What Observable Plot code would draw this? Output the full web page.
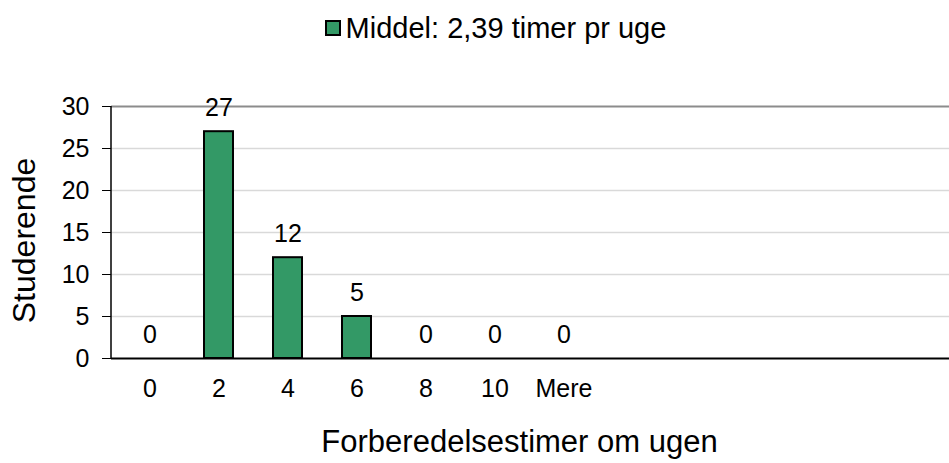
<!DOCTYPE html>
<html><head><meta charset="utf-8">
<script src="https://cdn.jsdelivr.net/npm/d3@7"></script>
<script src="https://cdn.jsdelivr.net/npm/@observablehq/plot@0.6"></script>
<style>
body{margin:0;background:#fff;font-family:"Liberation Sans",Arial,sans-serif;}
#legend{height:56px;display:flex;align-items:center;justify-content:center;padding-left:42px;box-sizing:border-box;font-size:29px;color:#000;}
#legend .sw{width:12px;height:12px;border:2px solid #000;background:#339966;margin-right:5px;}
#chart svg{display:block;}
</style></head><body>
<div id="legend"></div>
<div id="chart"></div>
<script>
const categories = ["0","2","4","6","8","10","Mere"];
const students = [0, 27, 12, 5, 0, 0, 0];
const yTicks = [0, 5, 10, 15, 20, 25, 30];
const seriesName = "Middel: 2,39 timer pr uge";
const yLabel = "Studerende";
const xLabel = "Forberedelsestimer om ugen";

const data = categories.map((c, i) => ({c, v: students[i]}));

const legend = document.getElementById("legend");
legend.innerHTML = `<span class="sw"></span><span></span>`;
legend.lastChild.textContent = seriesName;

const W = 949, H = 407, ML = 111, step = 69.75;
const font = "Liberation Sans, Arial, sans-serif";

const leftLine = (index, scales, values, dim) => {
  const g = document.createElementNS("http://www.w3.org/2000/svg", "line");
  g.setAttribute("x1", dim.marginLeft); g.setAttribute("x2", dim.marginLeft);
  g.setAttribute("y1", dim.marginTop); g.setAttribute("y2", dim.height - dim.marginBottom);
  g.setAttribute("stroke", "#000"); g.setAttribute("stroke-width", 1.5);
  return g;
};

const chart = Plot.plot({
  width: W, height: H,
  marginLeft: ML, marginRight: 0, marginTop: 50, marginBottom: 105,
  style: {fontFamily: font, fontSize: "25px", color: "#000", background: "#fff"},
  x: {domain: categories, range: [ML + 1, ML + 1 + categories.length * step], paddingInner: 0.584, paddingOuter: 0.292, align: 0.5, label: null},
  y: {domain: [0, 30], label: null},
  marks: [
    Plot.gridY(yTicks.filter(t => t > 0 && t < 30), {stroke: "#d9d9d9", strokeOpacity: 1, strokeWidth: 1.5}),
    Plot.ruleY([30], {stroke: "#8c8c8c", strokeWidth: 2}),
    Plot.axisY({ticks: yTicks, tickSize: 9, tickPadding: 13, stroke: "#000", fontSize: 25, label: null}),
    Plot.axisX({tickSize: 0, tickPadding: 21, fontSize: 25, label: null}),
    Plot.barY(data, {x: "c", y: "v", fill: "#339966", stroke: "#000", strokeWidth: 2}),
    Plot.text(data, {x: "c", y: "v", text: d => String(d.v), dy: -24, fontSize: 25, fill: "#000"}),
    Plot.ruleY([0], {stroke: "#000", strokeWidth: 2}),
    leftLine,
    Plot.text([yLabel], {frameAnchor: "left", textAnchor: "middle", lineAnchor: "middle", dx: -87, dy: 8, rotate: -90, fontSize: 32, fill: "#000"}),
    Plot.text([xLabel], {frameAnchor: "bottom", textAnchor: "middle", lineAnchor: "middle", dx: -11, dy: 84, fontSize: 31, fill: "#000"})
  ]
});
document.getElementById("chart").appendChild(chart);
</script>
</body></html>
